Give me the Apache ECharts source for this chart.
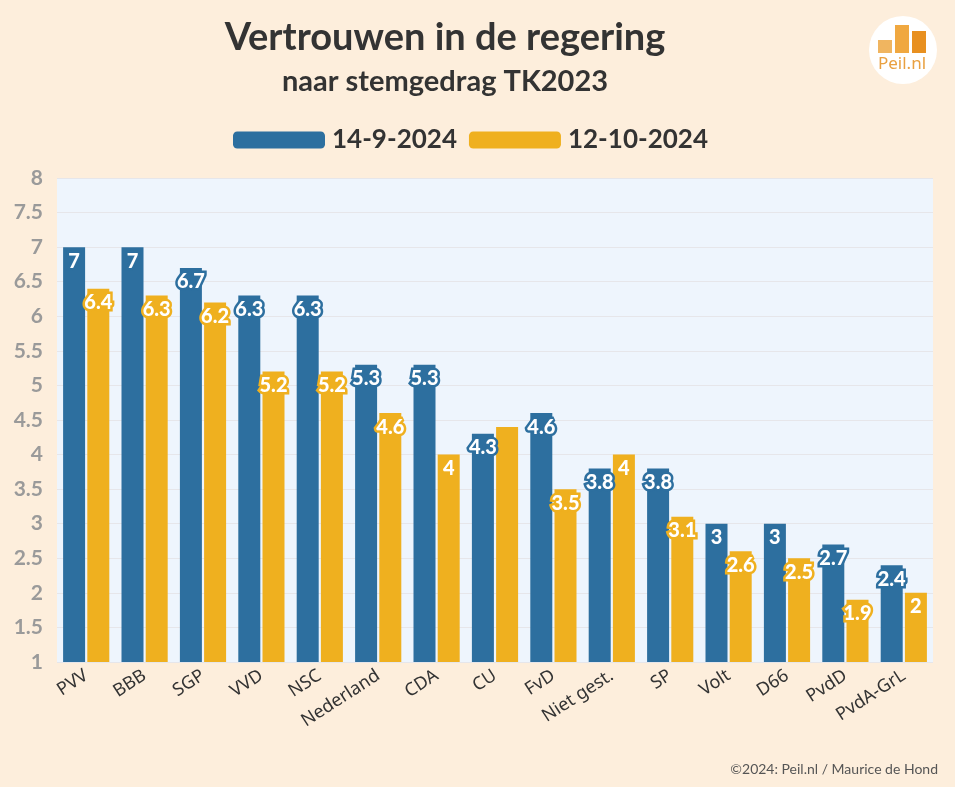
<!DOCTYPE html>
<html>
<head>
<meta charset="utf-8">
<script src="https://cdn.jsdelivr.net/npm/echarts@6/dist/echarts.min.js"></script>
<style>
html,body{margin:0;padding:0;background:#fdeedc;}
#chart{width:955px;height:787px;}
</style>
</head>
<body>
<div id="chart"></div>
<script>
const categories = ['PVV','BBB','SGP','VVD','NSC','Nederland','CDA','CU','FvD','Niet gest.','SP','Volt','D66','PvdD','PvdA-GrL'];
const seriesNames = ['14-9-2024','12-10-2024'];
const valuesSep = [7, 7, 6.7, 6.3, 6.3, 5.3, 5.3, 4.3, 4.6, 3.8, 3.8, 3, 3, 2.7, 2.4];
const valuesOct = [6.4, 6.3, 6.2, 5.2, 5.2, 4.6, 4, 4.4, 3.5, 4, 3.1, 2.6, 2.5, 1.9, 2];
const hiddenLabelOct = ['CU'];
const yMin = 1, yMax = 8, yStep = 0.5;

const BLUE = '#2d6f9f';
const ORANGE = '#efb01f';
const FONT = 'Lato, "Source Sans Pro", "Noto Sans", sans-serif';

function labelStyle(color){
  return {
    show: true, position: 'insideTop', distance: 4,
    color: '#fff', fontFamily: FONT, fontWeight: 900, fontSize: 20,
    textBorderColor: color, textBorderWidth: 5
  };
}

const chart = echarts.init(document.getElementById('chart'));
chart.setOption({
  backgroundColor: '#fdeedc',
  animation: false,
  title: [
    {text: 'Vertrouwen in de regering', left: 440, textAlign: 'center', top: 14,
     textStyle: {fontFamily: FONT, fontWeight: 'bold', fontSize: 38, color: '#333'}},
    {text: 'naar stemgedrag TK2023', left: 440, textAlign: 'center', top: 62,
     textStyle: {fontFamily: FONT, fontWeight: 'bold', fontSize: 29, color: '#333'}},
    {text: '©2024: Peil.nl / Maurice de Hond', right: 12, top: 757,
     textStyle: {fontFamily: FONT, fontWeight: 'normal', fontSize: 14, color: '#555'}}
  ],
  legend: {
    top: 122, left: 228,
    itemWidth: 92, itemHeight: 17, itemGap: 12,
    icon: 'roundRect',
    textStyle: {fontFamily: FONT, fontWeight: 'bold', fontSize: 26, color: '#333', padding: [0,0,0,2]},
    data: seriesNames
  },
  grid: {left: 57, right: 22, top: 178, bottom: 125, show: true, backgroundColor: '#eef5fd', borderWidth: 0},
  xAxis: {
    type: 'category', data: categories,
    axisLine: {show: false}, axisTick: {show: false},
    axisLabel: {rotate: 33, interval: 0, margin: 12, fontFamily: '"Noto Sans", "Open Sans", sans-serif', fontSize: 18, color: '#333'}
  },
  yAxis: {
    type: 'value', min: yMin, max: yMax, interval: yStep,
    axisLine: {show: false}, axisTick: {show: false},
    splitLine: {lineStyle: {color: '#e6e6ea', width: 1}},
    axisLabel: {margin: 14, fontFamily: FONT, fontWeight: 'bold', fontSize: 21, color: '#9a9a9a'}
  },
  series: [
    {name: seriesNames[0], type: 'bar', data: valuesSep, barWidth: 22, barGap: '10%',
     itemStyle: {color: BLUE, borderWidth: 0}, label: labelStyle(BLUE)},
    {name: seriesNames[1], type: 'bar', barWidth: 22,
     data: valuesOct.map((v, i) => hiddenLabelOct.includes(categories[i]) ? {value: v, label: {show: false}} : v),
     itemStyle: {color: ORANGE, borderWidth: 0}, label: labelStyle(ORANGE)}
  ],
  graphic: [
    {type: 'circle', shape: {cx: 903, cy: 50, r: 34}, style: {fill: '#ffffff'}},
    {type: 'rect', shape: {x: 878, y: 40, width: 14, height: 13}, style: {fill: '#f0b560'}},
    {type: 'rect', shape: {x: 895, y: 25, width: 14, height: 28}, style: {fill: '#f0a840'}},
    {type: 'rect', shape: {x: 912, y: 31, width: 14, height: 22}, style: {fill: '#e89020'}},
    {type: 'text', style: {x: 902, y: 64, text: 'Peil.nl', textAlign: 'center', textVerticalAlign: 'middle',
      font: '17px "Noto Sans", sans-serif', fill: '#e9a040'}}
  ]
});
</script>
</body>
</html>
